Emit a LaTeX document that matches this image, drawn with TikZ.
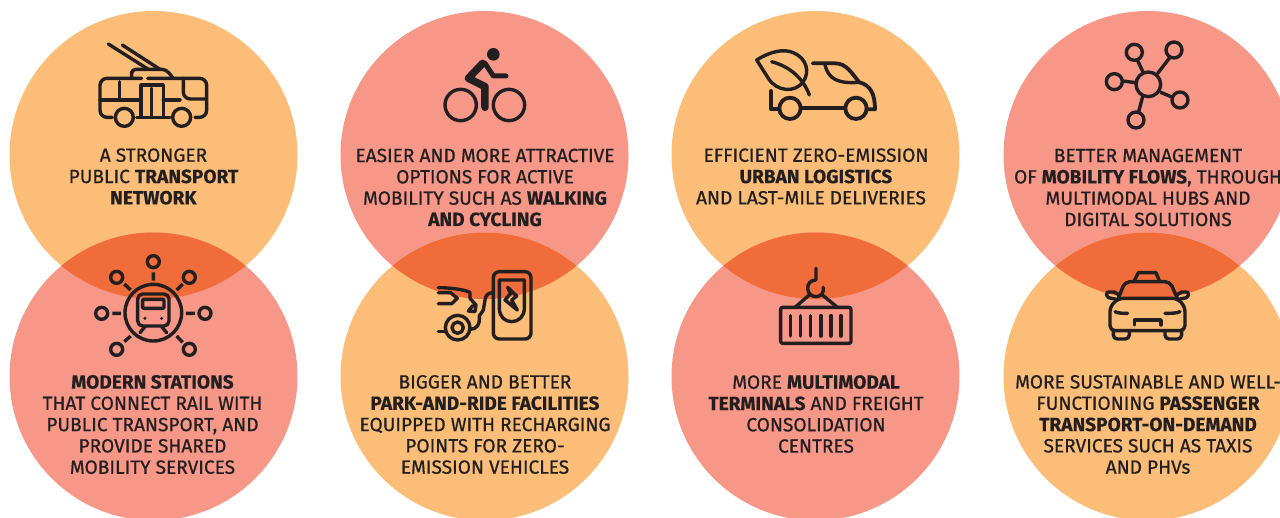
\documentclass[tikz,border=0pt]{standalone}
\usepackage{fontspec}
\setmainfont{Fira Sans}[FakeBold=0.7,BoldFeatures={FakeBold=0.3}]
\definecolor{orangeC}{HTML}{FBBD77}
\definecolor{salmonC}{HTML}{F79788}
\definecolor{overlapC}{HTML}{F16C3B}
\definecolor{inkC}{HTML}{231F20}
\tikzset{
  disc/.style={circle,minimum size=288pt,inner sep=0pt,outer sep=0pt,fill=#1},
  caption/.style={align=center,text=inkC,inner sep=0pt,font=\fontsize{19.1}{21.3}\selectfont},
  icon/.style={shift={(#1)},x=0.3333pt,y=-0.3333pt,draw=inkC,line width=3.4pt,line cap=round,line join=round},
}
\begin{document}
\begin{tikzpicture}[x=1pt,y=-1pt]
\useasboundingbox (0,0) rectangle (1280,517);
\clip (0,0) rectangle (1280,517);
\node[disc=orangeC] (c1t) at (153.5,155) {};
\node[disc=salmonC] (c1b) at (153.5,376.5) {};
\node[disc=salmonC] (c2t) at (484.5,155) {};
\node[disc=orangeC] (c2b) at (484.5,376.5) {};
\node[disc=orangeC] (c3t) at (815.5,155) {};
\node[disc=salmonC] (c3b) at (815.5,376.5) {};
\node[disc=salmonC] (c4t) at (1147.5,155) {};
\node[disc=orangeC] (c4b) at (1147.5,376.5) {};
\foreach \cx in {153.5,484.5,815.5,1147.5}{
  \begin{scope}
    \clip (\cx,155) circle (144);
    \fill[overlapC] (\cx,376.5) circle (144);
  \end{scope}
}
% captions
\node[caption] (t1) at (153.5,176.5) {A STRONGER\\PUBLIC \textbf{TRANSPORT}\\\textbf{NETWORK}};
\node[caption] (t2) at (485,187.5) {EASIER AND MORE ATTRACTIVE\\OPTIONS FOR ACTIVE\\MOBILITY SUCH AS \textbf{WALKING}\\\textbf{AND CYCLING}};
\node[caption] (t3) at (811,176.5) {\hspace*{10pt}EFFICIENT ZERO-EMISSION\\\hspace*{10pt}\textbf{URBAN LOGISTICS}\\AND LAST-MILE DELIVERIES};
\node[caption] (t4) at (1148,187.5) {BETTER MANAGEMENT\\OF \textbf{MOBILITY FLOWS}, THROUGH\\MULTIMODAL HUBS AND\\DIGITAL SOLUTIONS};
\node[caption] (t5) at (152.5,424.5) {\textbf{MODERN STATIONS}\\THAT CONNECT RAIL WITH\\PUBLIC TRANSPORT, AND\\PROVIDE SHARED\\MOBILITY SERVICES};
\node[caption] (t6) at (485,424.5) {BIGGER AND BETTER\\\textbf{PARK-AND-RIDE FACILITIES}\\EQUIPPED WITH RECHARGING\\POINTS FOR ZERO-\\EMISSION VEHICLES};
\node[caption] (t7) at (816,414) {MORE \textbf{MULTIMODAL}\\\textbf{TERMINALS} AND FREIGHT\\CONSOLIDATION\\CENTRES};
\node[caption] (t8) at (1148,424.5) {MORE SUSTAINABLE AND WELL-\\FUNCTIONING \textbf{PASSENGER}\\\textbf{TRANSPORT-ON-DEMAND}\\SERVICES SUCH AS TAXIS\\AND PHVs};
% trolleybus
\begin{scope}[icon={80,30}]
\draw (85,42)--(205,118) (127,45)--(240,118);
\draw (155,143)--(155,125) [rounded corners=4pt] --(155,118)--(258,118)--(278,143);
\draw[rounded corners=7pt] (185,145)--(60,145)--(60,262)--(97,262);
\draw[rounded corners=7pt] (203,145)--(380,145)--(380,262)--(345,262);
\draw (133,262) circle (27) (305,262) circle (27);
\draw (170,262)--(270,262);
\draw (183,262)--(183,165)--(250,165)--(250,262);
\draw (215,175)--(215,262);
\draw (118,155)--(118,210) (60,210)--(183,210) (250,210)--(300,210);
\draw[rounded corners=7pt] (310,145)--(310,207)--(380,207);
\end{scope}
% station
\begin{scope}[icon={80,245}]
\draw (220,203) circle (85);
\foreach \p in {(220,50),(110,97),(328,97),(65,205),(375,205),(110,313),(328,313)}{\draw \p circle (18);}
\draw[line cap=butt] (220,82)--(220,107) (133,117)--(152,135) (308,117)--(290,135) (97,205)--(123,205) (318,205)--(345,205) (133,290)--(152,273) (290,273)--(308,292);
\draw[rounded corners=5pt] (173,147) rectangle (267,243);
\draw[rounded corners=1pt] (188,163) rectangle (252,190);
\fill[inkC] (195,220) circle (5) (245,220) circle (5);
\draw (195,245)--(180,263) (245,245)--(260,263);
\end{scope}
% cyclist
\begin{scope}[icon={420,30}]
\fill[inkC] (220,73) circle (19);
\draw (122,225) circle (47) (267,225) circle (47);
\draw[line width=7.5pt] (188,100)--(145,145)--(195,170)--(195,232);
\draw[line width=5pt] (195,100)--(220,138)--(258,138);
\end{scope}
% EV charger
\begin{scope}[icon={420,250}]
\draw[rounded corners=6pt] (220,267)--(220,65)--(333,65)--(333,267)--cycle;
\draw (238,90)--(313,90)--(313,175) .. controls (313,200) and (295,215) .. (275,215) .. controls (255,215) and (238,200) .. (238,175)--cycle;
\draw (263,112)--(290,138)--(275,150)--(292,180)--(255,150)--(272,130)--cycle;
\draw (220,128) .. controls (205,128) and (197,135) .. (195,150) -- (190,180) .. controls (188,190) and (180,190) .. (178,197) .. controls (180,225) and (170,238) .. (150,238);
\draw (55,113) .. controls (90,113) and (130,118) .. (150,127) -- (150,145) -- (168,165) -- (165,185) -- (145,183) -- (158,167);
\draw (55,128)--(92,128)--(112,145)--(95,161)--(55,161);
\draw (113,233) circle (37) (113,233) circle (17);
\draw (55,245)--(78,245);
\end{scope}
% van and leaf
\begin{scope}[icon={740,30}]
\draw (50,90) .. controls (90,65) and (130,55) .. (160,68) .. controls (200,85) and (210,125) .. (190,155) .. controls (165,190) and (110,185) .. (85,145) -- cycle;
\draw (95,95) .. controls (150,110) and (190,145) .. (208,195);
\draw[line width=3.8pt] (218,100)--(285,100) .. controls (320,100) and (335,130) .. (358,157) .. controls (390,165) and (405,190) .. (405,238)--(385,238);
\draw (255,105) .. controls (265,145) and (290,162) .. (358,157);
\draw[line width=3.8pt] (150,235) circle (32) (348,235) circle (32);
\draw[line width=3.8pt] (185,233)--(315,233);
\draw[line width=3.8pt] (93,183)--(93,238)--(118,238);
\end{scope}
% container
\begin{scope}[icon={760,255}]
\draw (168,40)--(168,75) .. controls (150,75) and (143,88) .. (143,100) .. controls (143,115) and (155,125) .. (168,125) .. controls (182,125) and (193,113) .. (190,97);
\draw (105,157)--(150,118) (232,157)--(185,118);
\draw[rounded corners=2pt] (62,157) rectangle (273,265);
\foreach \bx in {92,122,152,183,213,243}{\draw[line width=3.6pt] (\bx,182)--(\bx,243);}
\end{scope}
% network
\begin{scope}[icon={1090,30}]
\draw (175,163) circle (37) (133,67) circle (24) (252,60) circle (24) (73,155) circle (24) (270,210) circle (24) (138,270) circle (24);
\draw (160,128)--(142,90) (203,130)--(240,82) (137,158)--(98,153) (212,187)--(248,202) (158,200)--(146,245);
\end{scope}
% taxi
\begin{scope}[icon={1090,260}]
\draw (133,62)--(145,38)--(198,38)--(208,62);
\draw[rounded corners=5pt] (85,115)--(105,65)--(240,65)--(262,115);
\draw[rounded corners=5pt] (85,115)--(262,115)--(285,140)--(285,212)--(60,212)--(60,140)--cycle;
\draw[rounded corners=2pt] (80,118)--(50,112)--(50,96)--(78,96)--(85,105);
\draw[rounded corners=2pt] (265,118)--(295,112)--(295,96)--(270,96)--(262,105);
\draw (75,155) .. controls (85,160) and (95,160) .. (113,160) (270,155) .. controls (260,160) and (245,160) .. (225,160);
\draw (133,195)--(133,180)--(213,180)--(213,195);
\draw[rounded corners=4pt] (70,212)--(70,237)--(118,237)--(118,212);
\draw[rounded corners=4pt] (225,212)--(225,237)--(275,237)--(275,212);
\end{scope}
\end{tikzpicture}
\end{document}
